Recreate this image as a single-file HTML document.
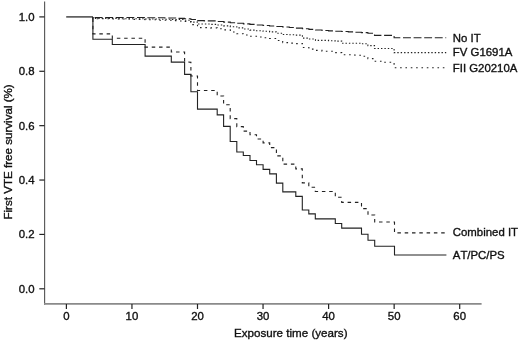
<!DOCTYPE html>
<html><head><meta charset="utf-8"><title>First VTE free survival</title>
<style>
html,body{margin:0;padding:0;background:#fff;}
body{width:520px;height:342px;overflow:hidden;}
svg{display:block;}
text{font-family:"Liberation Sans",Arial,Helvetica,sans-serif;font-size:11.4px;fill:#111;stroke:#111;stroke-width:0.35px;font-kerning:none;}
.ln{fill:none;stroke:#222;stroke-width:1.1;stroke-linejoin:miter;}
.ax{fill:none;stroke:#666;stroke-width:1;}
.tk{fill:none;stroke:#222;stroke-width:1.2;}
</style></head><body>
<svg width="520" height="342" viewBox="0 0 520 342">
<rect width="520" height="342" fill="#fff"/>
<!-- axes -->
<line x1="44.6" y1="1.5" x2="44.6" y2="304.8" stroke="#5a5a5a" stroke-width="1.15"/>
<line x1="44" y1="303.9" x2="481.6" y2="303.9" stroke="#8a8a8a" stroke-width="1.8"/>
<g class="tk">
<line x1="39.3" y1="16.90" x2="44.5" y2="16.90"/>
<line x1="39.3" y1="71.28" x2="44.5" y2="71.28"/>
<line x1="39.3" y1="125.66" x2="44.5" y2="125.66"/>
<line x1="39.3" y1="180.04" x2="44.5" y2="180.04"/>
<line x1="39.3" y1="234.42" x2="44.5" y2="234.42"/>
<line x1="39.3" y1="288.80" x2="44.5" y2="288.80"/>
<line x1="66.40" y1="304" x2="66.40" y2="309"/>
<line x1="131.95" y1="304" x2="131.95" y2="309"/>
<line x1="197.50" y1="304" x2="197.50" y2="309"/>
<line x1="263.05" y1="304" x2="263.05" y2="309"/>
<line x1="328.60" y1="304" x2="328.60" y2="309"/>
<line x1="394.15" y1="304" x2="394.15" y2="309"/>
<line x1="459.70" y1="304" x2="459.70" y2="309"/>
</g>
<g text-anchor="end">
<text x="34.6" y="21">1.0</text>
<text x="34.6" y="75">0.8</text>
<text x="34.6" y="130">0.6</text>
<text x="34.6" y="184">0.4</text>
<text x="34.6" y="238">0.2</text>
<text x="34.6" y="293">0.0</text>
</g>
<g text-anchor="middle">
<text x="66.40" y="320">0</text>
<text x="131.95" y="320">10</text>
<text x="197.50" y="320">20</text>
<text x="263.05" y="320">30</text>
<text x="328.60" y="320">40</text>
<text x="394.15" y="320">50</text>
<text x="459.70" y="320">60</text>
<text x="290.8" y="337" style="font-size:11.6px">Exposure time (years)</text>
</g>
<text transform="translate(11.6,151.9) rotate(-90)" text-anchor="middle" style="font-size:11.6px">First VTE free survival (%)</text>
<!-- curves -->
<line x1="66.2" y1="16.9" x2="93" y2="16.9" stroke="#3a3a3a" stroke-width="1.4"/>
<polyline class="ln" stroke-dasharray="7.9 2.7" stroke-dashoffset="8.4" points="92.9,17 92.9,17.5 145.1,17.5 145.1,17.77 164.7,17.77 164.7,18.03 177.8,18.03 177.8,18.39 184.4,18.39 184.4,18.68 190.9,18.68 190.9,19.46 197.5,19.46 197.5,20.66 204.1,20.66 204.1,20.92 217.2,20.92 217.2,21.52 223.7,21.52 223.7,22.1 230.3,22.1 230.3,22.68 236.8,22.68 236.8,23.26 243.4,23.26 243.4,23.84 249.9,23.84 249.9,24.42 256.5,24.42 256.5,24.94 263,24.94 263,25.47 269.6,25.47 269.6,25.99 276.2,25.99 276.2,26.52 282.7,26.52 282.7,27.04 289.3,27.04 289.3,27.57 295.8,27.57 295.8,28.17 302.4,28.17 302.4,28.78 308.9,28.78 308.9,29.4 315.5,29.4 315.5,30.01 322,30.01 322,30.53 328.6,30.53 328.6,30.87 335.2,30.87 335.2,31.22 341.7,31.22 341.7,31.57 348.3,31.57 348.3,31.92 354.8,31.92 354.8,32.27 361.4,32.27 361.4,32.62 367.9,32.62 367.9,33.2 374.5,33.2 374.5,35.4 394.1,35.4 394.1,37.7 446.2,37.7"/>
<polyline class="ln" stroke-dasharray="1.4 2" stroke-dashoffset="0.0" points="92.9,17 92.9,18.41 118.8,18.41 118.8,18.68 145.1,18.68 145.1,19.01 158.2,19.01 158.2,19.27 171.3,19.27 171.3,19.56 184.4,19.56 184.4,20.2 190.9,20.2 190.9,22.1 197.5,22.1 197.5,24.04 210.6,24.04 210.6,24.38 217.2,24.38 217.2,25.07 223.7,25.07 223.7,25.87 230.3,25.87 230.3,26.7 236.8,26.7 236.8,27.85 243.4,27.85 243.4,28.99 249.9,28.99 249.9,30.12 256.5,30.12 256.5,30.71 263,30.71 263,31.3 269.6,31.3 269.6,31.89 276.2,31.89 276.2,33.19 282.7,33.19 282.7,34.5 289.3,34.5 289.3,34.76 295.8,34.76 295.8,35.08 302.4,35.08 302.4,38.11 308.9,38.11 308.9,38.97 315.5,38.97 315.5,40.41 328.6,40.41 328.6,40.69 335.2,40.69 335.2,41.16 341.7,41.16 341.7,43.2 361.4,43.2 361.4,43.78 367.9,43.78 367.9,45.67 374.5,45.67 374.5,48.5 394.1,48.5 394.1,52.6 446.2,52.6"/>
<polyline class="ln" stroke-dasharray="1.6 3.74" stroke-dashoffset="5.12" points="92.9,17 92.9,18.71 112.3,18.71 112.3,19.04 131.9,19.04 131.9,19.37 145.1,19.37 145.1,19.7 158.2,19.7 158.2,20.18 171.3,20.18 171.3,20.67 177.8,20.67 177.8,20.95 184.4,20.95 184.4,21.53 190.9,21.53 190.9,24.66 197.5,24.66 197.5,27.61 210.6,27.61 210.6,27.88 217.2,27.88 217.2,28.81 223.7,28.81 223.7,29.91 230.3,29.91 230.3,32 236.8,32 236.8,33.71 243.4,33.71 243.4,34.98 249.9,34.98 249.9,36.23 256.5,36.23 256.5,36.98 263,36.98 263,37.74 269.6,37.74 269.6,38.49 276.2,38.49 276.2,40.54 282.7,40.54 282.7,42.6 289.3,42.6 289.3,43.1 295.8,43.1 295.8,43.6 302.4,43.6 302.4,47.56 308.9,47.56 308.9,49.17 315.5,49.17 315.5,50.41 322,50.41 322,51.26 335.2,51.26 335.2,52.6 341.7,52.6 341.7,54.72 354.8,54.72 354.8,55.19 361.4,55.19 361.4,56.3 367.9,56.3 367.9,58.6 374.5,58.6 374.5,61.25 381,61.25 381,62.3 394.1,62.3 394.1,67.8 446.2,67.8"/>
<polyline class="ln" stroke-dasharray="3.5 3.8" stroke-dashoffset="5.91" points="92.9,17 92.9,33.85 112.3,33.85 112.3,38.25 145.1,38.25 145.1,47.15 171.3,47.15 171.3,52.05 184.6,52.05 184.6,61.65 190.9,62.35 190.9,75.95 197.5,75.95 197.5,90.55 217.2,90.55 217.2,95.95 223.6,95.95 223.6,104.75 230.2,104.75 230.2,118.65 236.8,118.65 236.8,126.65 243.3,126.65 243.3,131.15 250,131.15 250,134.75 256.5,134.75 256.5,139.05 263.1,139.05 263.1,142.85 269.7,142.85 269.7,147.65 276.4,147.65 276.4,155.85 282.8,155.85 282.8,164.15 295.8,164.15 295.8,168.85 302.3,168.85 302.3,182.85 308.8,182.85 308.8,187.25 315.3,187.25 315.3,191.55 335.3,191.55 335.3,197.25 341.7,197.25 341.7,202.35 361.5,202.35 361.5,208.65 368,208.65 368,215.05 374.7,215.05 374.7,222.05 394.5,222.05 394.5,232.85 445.4,232.85"/>
<polyline class="ln" points="92.9,17 92.9,39.3 112.3,39.3 112.3,44.5 145.1,44.5 145.1,56.15 171.3,56.15 171.3,62.15 184.6,62.15 184.6,74.35 190.9,74.35 190.9,91.75 197.5,91.75 197.5,109.15 217.2,109.15 217.2,114.85 223.6,114.85 223.6,126.35 230.2,126.35 230.2,141.45 236.8,141.45 236.8,152.05 243.3,152.05 243.3,155.45 250,155.45 250,160.55 256.5,160.55 256.5,164.75 263.1,164.75 263.1,169.35 269.7,169.35 269.7,173.85 276.4,173.85 276.4,183.15 282.8,183.15 282.8,191.85 295.8,191.85 295.8,196.35 302.3,196.35 302.3,210.05 308.8,210.05 308.8,213.85 315.3,213.85 315.3,218.85 335.3,218.85 335.3,223.55 341.7,223.55 341.7,228.15 361.5,228.15 361.5,234.25 368,234.25 368,240.25 374.7,240.25 374.7,246.25 394.5,246.25 394.5,255.05 446.4,255.05"/>
<!-- labels -->
<g style="font-size:11.55px">
<text x="452.8" y="41.6">No IT</text>
<text x="452.8" y="56.1">FV G1691A</text>
<text x="452.8" y="71.7">FII G20210A</text>
<text x="452.8" y="236.2">Combined IT</text>
<text x="452.8" y="258.6">AT/PC/PS</text>
</g>
</svg>
</body></html>
